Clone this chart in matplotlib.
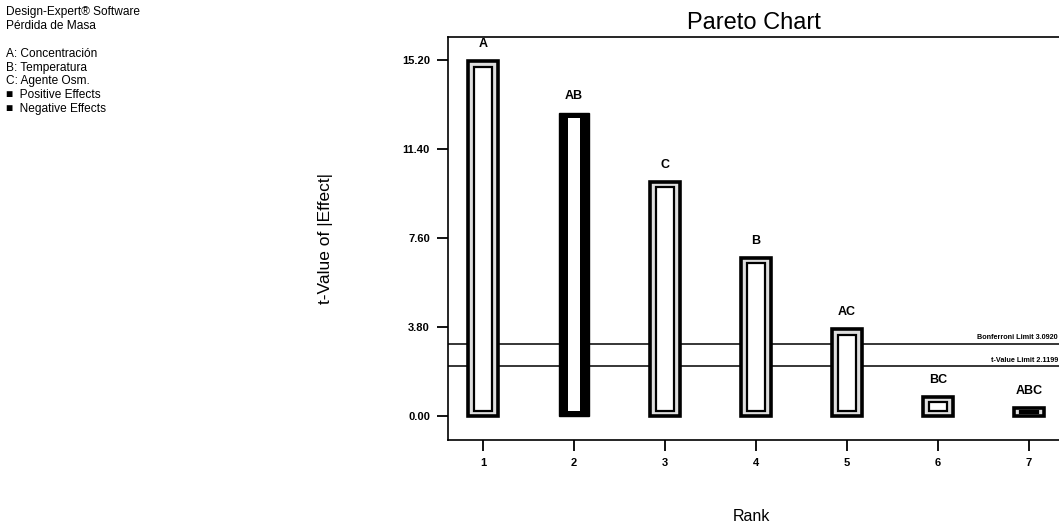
import matplotlib.pyplot as plt
from matplotlib.transforms import offset_copy

plt.rcParams['font.family'] = ['Liberation Sans', 'DejaVu Sans']

# Pareto data: effect terms sorted by rank
terms = ["A", "AB", "C", "B", "AC", "BC", "ABC"]
ranks = [1, 2, 3, 4, 5, 6, 7]
t_values = [15.15, 12.95, 10.0, 6.75, 3.70, 0.81, 0.32]
negative = [False, True, False, False, False, False, False]

bonferroni_limit = 3.0920
t_value_limit = 2.1199

y_ticks = [0.0, 3.8, 7.6, 11.4, 15.2]

legend_lines = [
    "Design-Expert\u00ae Software",
    "P\u00e9rdida de Masa",
    "",
    "A: Concentraci\u00f3n",
    "B: Temperatura",
    "C: Agente Osm.",
    "\u25a0  Positive Effects",
    "\u25a0  Negative Effects",
]

fig = plt.figure(figsize=(10.59, 5.27), dpi=100)
ax = fig.add_axes([0.423, 0.165, 0.577, 0.765])

bar_w = 0.33
pad_y = 0.22      # inset of inner frame (data units)
pad_x = 0.065

# limit lines go underneath the bars
ax.axhline(bonferroni_limit, color="black", lw=1.1, zorder=1)
ax.axhline(t_value_limit, color="black", lw=1.1, zorder=1)
ax.text(0.998, bonferroni_limit + 0.12, "Bonferroni Limit %.4f" % bonferroni_limit,
        transform=ax.get_yaxis_transform(), fontsize=5.2, fontweight="bold",
        va="bottom", ha="right")
ax.text(0.998, t_value_limit + 0.12, "t-Value Limit %.4f" % t_value_limit,
        transform=ax.get_yaxis_transform(), fontsize=5.2, fontweight="bold",
        va="bottom", ha="right")

for r, v, neg, name in zip(ranks, t_values, negative, terms):
    if neg:
        ax.bar(r, v, width=bar_w, color="black", edgecolor="black", lw=1, zorder=2)
        ax.bar(r, v - 2 * pad_y, bottom=pad_y, width=bar_w - 0.19,
               color="white", edgecolor="none", zorder=3)
    else:
        ax.bar(r, v, width=bar_w, color="#dedede", edgecolor="black", lw=2.6, zorder=2)
        inner_h = max(v - 2 * pad_y, 0.06)
        inner_b = (v - inner_h) / 2 if v < 2 * pad_y + 0.06 else pad_y
        ax.bar(r, inner_h, bottom=inner_b, width=bar_w - 2 * pad_x,
               color="white", edgecolor="black", lw=1.6, zorder=3)
    lab_tr = offset_copy(ax.transData, fig=fig, x=0, y=8, units="points")
    ax.text(r, v, name, transform=lab_tr, ha="center", va="bottom",
            fontsize=9, fontweight="bold")

ax.set_xlim(0.615, 7.33)
ax.set_ylim(-1.03, 16.2)
ax.set_xticks(ranks)
ax.set_xticklabels([str(r) for r in ranks])
ax.set_yticks(y_ticks)
ax.set_yticklabels(["%.2f" % t for t in y_ticks])
ax.tick_params(direction="out", length=8, width=1.3, labelsize=8, pad=5)
for lbl in ax.get_xticklabels() + ax.get_yticklabels():
    lbl.set_fontweight("bold")

ax.spines["right"].set_visible(False)
for s in ["left", "bottom", "top"]:
    ax.spines[s].set_linewidth(1.2)

ax.set_title("Pareto Chart", fontsize=17, pad=6)
ax.set_xlabel("Rank", fontsize=11.5)
ax.xaxis.set_label_coords(0.497, -0.17)
ax.set_ylabel("t-Value of |Effect|", fontsize=12.5)
ax.yaxis.set_label_coords(-0.188, 0.5)

y0 = 0.988
for i, line in enumerate(legend_lines):
    fig.text(0.006, y0 - i * 0.0262, line, fontsize=8.6, va="top", ha="left")

fig.savefig("out.png", dpi=100)
